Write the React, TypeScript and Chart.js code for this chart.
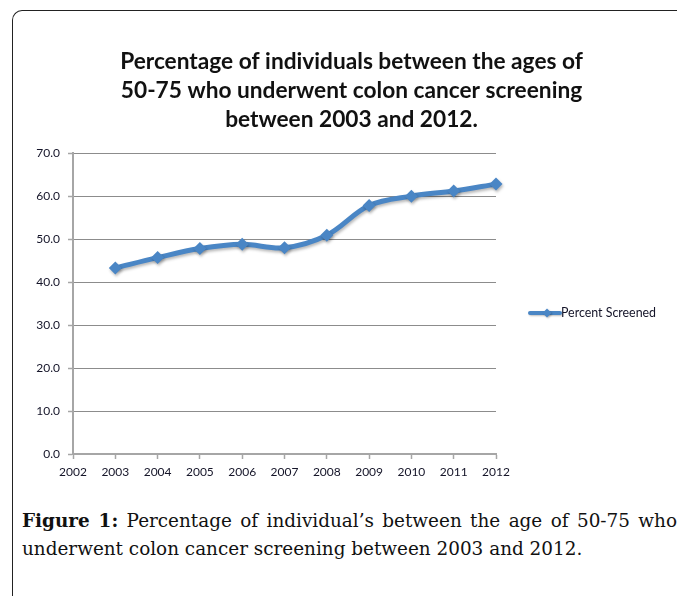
import React, { useEffect, useRef } from "react";
import { Chart, registerables } from "chart.js";

Chart.register(...registerables);

// Survey years and share of adults aged 50-75 screened (%)
const years = [2003, 2004, 2005, 2006, 2007, 2008, 2009, 2010, 2011, 2012];
const percentScreened = [43.3, 45.7, 47.8, 48.8, 48.0, 50.9, 57.8, 60.0, 61.2, 62.8];
const xRange = [2002, 2012];
const yRange = [0, 70];
const yStep = 10;
const seriesLabel = "Percent Screened";
const titleLines = [
  "Percentage of individuals between the ages of",
  "50-75 who underwent colon cancer screening",
  "between 2003 and 2012.",
];

const LINE_COLOR = "#4a86c5";
const AXIS_COLOR = "#a6a6a6";
const GRID_COLOR = "#8c8c8c";
const LABEL_COLOR = "#141428";
const TICK_FONT = { family: "Lato", size: 12 };

// Soft drop shadow under the series line and markers
const lineShadow = {
  id: "lineShadow",
  beforeDatasetsDraw(chart: any) {
    const c = chart.ctx;
    c.save();
    c.shadowColor = "rgba(0,0,0,0.28)";
    c.shadowBlur = 3;
    c.shadowOffsetX = 1;
    c.shadowOffsetY = 2;
  },
  afterDatasetsDraw(chart: any) {
    chart.ctx.restore();
  },
};

// Legend entry to the right of the plot: line sample with a diamond marker
const sideLegend = {
  id: "sideLegend",
  afterDraw(chart: any) {
    const { ctx, chartArea } = chart;
    const ds = chart.data.datasets[0];
    const x0 = chartArea.right + 34;
    const y = (chartArea.top + chartArea.bottom) / 2 + 9.5;
    ctx.save();
    ctx.shadowColor = "rgba(0,0,0,0.25)";
    ctx.shadowBlur = 2;
    ctx.shadowOffsetX = 1;
    ctx.shadowOffsetY = 1;
    ctx.strokeStyle = ds.borderColor;
    ctx.lineWidth = 4;
    ctx.lineCap = "round";
    ctx.beginPath();
    ctx.moveTo(x0, y);
    ctx.lineTo(x0 + 30, y);
    ctx.stroke();
    const cx = x0 + 17;
    const r = 4.5;
    ctx.fillStyle = ds.borderColor;
    ctx.beginPath();
    ctx.moveTo(cx, y - r);
    ctx.lineTo(cx + r, y);
    ctx.lineTo(cx, y + r);
    ctx.lineTo(cx - r, y);
    ctx.closePath();
    ctx.fill();
    ctx.restore();
    ctx.save();
    ctx.fillStyle = LABEL_COLOR;
    ctx.font = `12.4px ${TICK_FONT.family}`;
    ctx.textBaseline = "middle";
    ctx.textAlign = "left";
    ctx.fillText(ds.label, x0 + 31, y);
    ctx.restore();
  },
};

function ScreeningChart() {
  const ref = useRef<HTMLCanvasElement | null>(null);

  useEffect(() => {
    if (!ref.current) return;
    const chart = new Chart(ref.current, {
      type: "line",
      data: {
        datasets: [
          {
            label: seriesLabel,
            data: years.map((yr, i) => ({ x: yr, y: percentScreened[i] })),
            borderColor: LINE_COLOR,
            backgroundColor: LINE_COLOR,
            borderWidth: 5,
            tension: 0.35,
            pointStyle: "rectRot",
            pointRadius: 6.5,
            pointBorderWidth: 0,
            pointBackgroundColor: LINE_COLOR,
            clip: false,
          },
        ],
      },
      options: {
        animation: false,
        responsive: false,
        layout: { padding: { left: 13, right: 0, top: 0, bottom: 0 } },
        plugins: {
          legend: { display: false },
          tooltip: { enabled: false },
          title: {
            display: true,
            text: titleLines,
            color: "#111111",
            font: { family: "Lato", size: 22.7, weight: "bold", lineHeight: 1.28 },
            padding: { top: 35, bottom: 19 },
          },
        },
        scales: {
          x: {
            type: "linear",
            min: xRange[0],
            max: xRange[1],
            grid: {
              drawOnChartArea: false,
              drawTicks: true,
              tickLength: 5,
              tickColor: AXIS_COLOR,
              tickWidth: 1.5,
            },
            border: { color: AXIS_COLOR, width: 2 },
            ticks: {
              stepSize: 1,
              autoSkip: false,
              maxRotation: 0,
              padding: 6,
              color: LABEL_COLOR,
              font: TICK_FONT,
              callback: (v: any) => String(v),
            },
            afterFit: (s: any) => {
              s.height = 40;
            },
          },
          y: {
            min: yRange[0],
            max: yRange[1],
            grid: {
              color: GRID_COLOR,
              lineWidth: 1,
              drawTicks: true,
              tickLength: 5,
              tickColor: AXIS_COLOR,
              tickWidth: 1.5,
            },
            border: { color: AXIS_COLOR, width: 2 },
            ticks: {
              stepSize: yStep,
              padding: 8,
              color: LABEL_COLOR,
              font: TICK_FONT,
              callback: (v: any) => Number(v).toFixed(1),
            },
            afterFit: (s: any) => {
              s.width = 46;
            },
          },
          legendSpace: {
            type: "linear",
            position: "right",
            display: true,
            grid: { display: false },
            border: { display: false },
            ticks: { display: false },
            afterFit: (s: any) => {
              s.width = 180;
            },
          },
        },
      },
      plugins: [lineShadow, sideLegend],
    } as any);
    return () => chart.destroy();
  }, []);

  return <canvas ref={ref} width={662} height={482} style={{ display: "block" }} />;
}

export default function App() {
  return (
    <div
      style={{
        position: "fixed",
        left: 0,
        top: 0,
        width: 677,
        height: 596,
        overflow: "hidden",
        background: "#ffffff",
      }}
    >
      <div
        style={{
          position: "absolute",
          left: 12,
          top: 10,
          width: 720,
          height: 700,
          borderLeft: "1.5px solid #222",
          borderTop: "1.5px solid #222",
          borderTopLeftRadius: 10,
        }}
      />
      <div style={{ position: "absolute", left: 14, top: 12 }}>
        <ScreeningChart />
      </div>
      <div
        style={{
          position: "absolute",
          left: 22,
          top: 507,
          width: 655,
          fontFamily: "'DejaVu Serif', serif",
          fontSize: 18.4,
          lineHeight: "28px",
          color: "#111",
        }}
      >
        <div style={{ textAlign: "justify", textAlignLast: "justify", whiteSpace: "nowrap" as any }}>
          <b>Figure 1:</b> Percentage of individual’s between the age of 50-75 who
        </div>
        <div>underwent colon cancer screening between 2003 and 2012.</div>
      </div>
    </div>
  );
}
